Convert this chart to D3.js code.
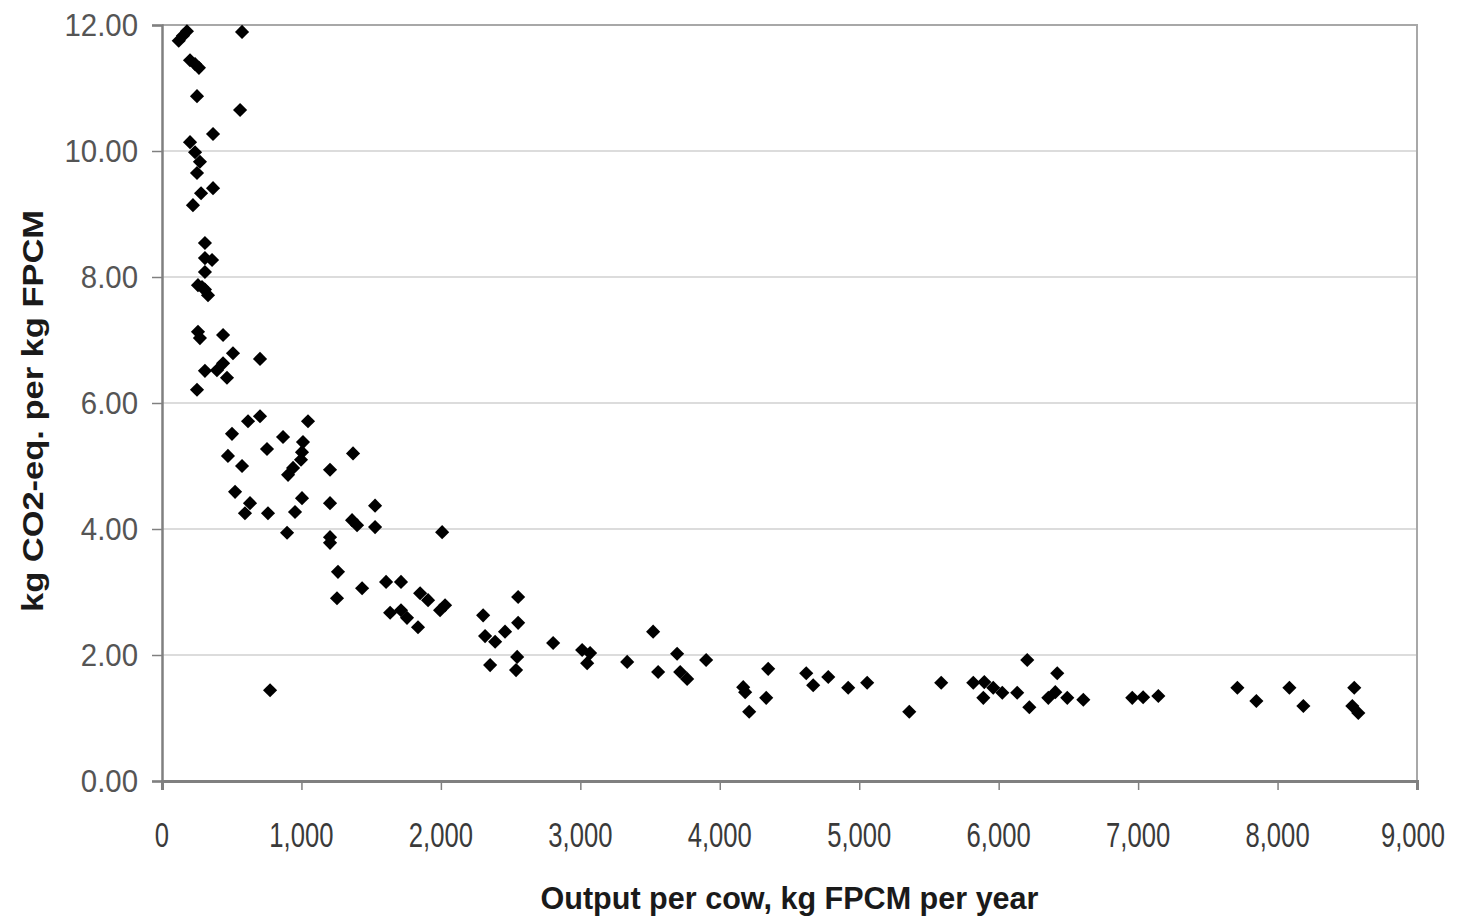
<!DOCTYPE html>
<html>
<head>
<meta charset="utf-8">
<script src="https://cdn.jsdelivr.net/npm/d3@7"></script>
<style>
  body { margin: 0; background: #fff; }
  svg { display: block; font-family: "Liberation Sans", Arial, sans-serif; }
</style>
</head>
<body>
<svg id="chart" width="1460" height="919"></svg>
<script>
// output per cow (kg FPCM per year) and emission intensity (kg CO2-eq. per kg FPCM)
const outputPerCow = [
  120, 150, 179, 574, 201, 237, 265, 251, 560, 366,
  201, 237, 272, 251, 366, 280, 222, 308, 308, 359,
  308, 258, 287, 308, 330, 258, 272, 438, 509, 703,
  438, 394, 308, 466, 251, 617, 703, 1047, 502, 868,
  1011, 753, 1004, 1370, 473, 997, 574, 940, 904, 1205,
  524, 1004, 631, 1205, 1528, 595, 760, 954, 1363, 1399,
  1528, 897, 2009, 1205, 1205, 1262, 1255, 1435, 1607, 1714,
  1851, 1908, 2030, 1994, 1636, 1714, 1757, 1836, 2303, 2554,
  2554, 2460, 2317, 2389, 2353, 2547, 2539, 2805, 3013, 3070,
  3049, 3336, 3522, 3558, 3694, 3716, 3766, 3902, 4168, 4182,
  4211, 4347, 4333, 4620, 4670, 4778, 4921, 5057, 5359, 5588,
  5818, 5897, 5890, 5961, 6026, 6133, 6205, 6220, 6356, 6406,
  6420, 6492, 6607, 6958, 7036, 7145, 7712, 7848, 8085, 8185,
  8550, 8536, 8579, 775
];
const emissionsPerKg = [
  11.75, 11.83, 11.9, 11.89, 11.44, 11.38, 11.32, 10.87, 10.65, 10.27,
  10.14, 9.98, 9.83, 9.65, 9.41, 9.33, 9.14, 8.54, 8.30, 8.27,
  8.08, 7.87, 7.84, 7.80, 7.71, 7.13, 7.03, 7.08, 6.79, 6.70,
  6.63, 6.52, 6.51, 6.40, 6.21, 5.71, 5.79, 5.71, 5.51, 5.46,
  5.38, 5.27, 5.22, 5.20, 5.16, 5.10, 5.00, 4.97, 4.86, 4.94,
  4.59, 4.49, 4.41, 4.41, 4.37, 4.25, 4.25, 4.27, 4.14, 4.06,
  4.03, 3.94, 3.95, 3.87, 3.78, 3.32, 2.90, 3.06, 3.16, 3.16,
  2.98, 2.87, 2.79, 2.71, 2.67, 2.71, 2.59, 2.44, 2.63, 2.92,
  2.51, 2.37, 2.30, 2.21, 1.84, 1.97, 1.76, 2.19, 2.08, 2.03,
  1.87, 1.89, 2.37, 1.73, 2.02, 1.73, 1.62, 1.92, 1.49, 1.41,
  1.10, 1.78, 1.32, 1.71, 1.52, 1.65, 1.48, 1.56, 1.10, 1.56,
  1.56, 1.57, 1.32, 1.48, 1.40, 1.40, 1.92, 1.17, 1.32, 1.41,
  1.71, 1.32, 1.29, 1.32, 1.33, 1.35, 1.48, 1.27, 1.48, 1.19,
  1.48, 1.19, 1.08, 1.44
];
const xTicks = [0, 1000, 2000, 3000, 4000, 5000, 6000, 7000, 8000, 9000];
const yTicks = [0, 2, 4, 6, 8, 10, 12];

const svg = d3.select('#chart');
const margin = { left: 162, right: 43, top: 25, bottom: 138 };
const width = 1460, height = 919;

const x = d3.scaleLinear().domain([0, 9000]).range([margin.left, width - margin.right]);
const y = d3.scaleLinear().domain([0, 12]).range([height - margin.bottom, margin.top]);

// grid
svg.append('g').selectAll('line').data(yTicks.filter(d => d > 0)).enter().append('line')
  .attr('x1', x(0)).attr('x2', x(9000))
  .attr('y1', d => y(d)).attr('y2', d => y(d))
  .attr('stroke', '#d0d0d0').attr('stroke-width', 1.5);

// frame (top, right)
svg.append('path')
  .attr('d', `M${x(0)},${y(12)}H${x(9000)}V${y(0)}`)
  .attr('fill', 'none').attr('stroke', '#a8a8a8').attr('stroke-width', 2);

// axes
const xAxis = svg.append('g').attr('transform', `translate(0,${y(0)})`)
  .call(d3.axisBottom(x).tickValues(xTicks).tickSize(9).tickFormat(''));
xAxis.select('.domain').attr('stroke', '#808080').attr('stroke-width', 3);
xAxis.selectAll('.tick line').attr('stroke', '#808080').attr('stroke-width', 1.5);

const yAxis = svg.append('g').attr('transform', `translate(${x(0)},0)`)
  .call(d3.axisLeft(y).tickValues(yTicks).tickSize(10).tickFormat(''));
yAxis.select('.domain').attr('stroke', '#808080').attr('stroke-width', 2.5);
yAxis.selectAll('.tick line').attr('stroke', '#808080').attr('stroke-width', 1.5);

// tick labels (the source image is stretched vertically)
const fmtX = d3.format(',');
svg.append('g').selectAll('text').data(xTicks).enter().append('text')
  .attr('transform', d => `translate(${d === 9000 ? x(d) - 4 : x(d)},${y(0) + 66}) scale(0.95,1.3)`)
  .attr('text-anchor', 'middle')
  .attr('font-size', '27px').attr('fill', '#3a3a3a')
  .text(d => fmtX(d));

svg.append('g').selectAll('text').data(yTicks).enter().append('text')
  .attr('transform', d => `translate(138,${y(d) + 11}) scale(1.13,1.2)`)
  .attr('text-anchor', 'end')
  .attr('font-size', '26px').attr('fill', '#555')
  .text(d => d.toFixed(2));

// axis titles
svg.append('text')
  .attr('x', (x(0) + x(9000)) / 2).attr('y', 909)
  .attr('text-anchor', 'middle').attr('font-weight', 'bold')
  .attr('font-size', '32px').attr('fill', '#1a1a1a')
  .attr('textLength', 498).attr('lengthAdjust', 'spacingAndGlyphs')
  .text('Output per cow, kg FPCM per year');

svg.append('text')
  .attr('transform', `translate(43,411) rotate(-90)`)
  .attr('text-anchor', 'middle').attr('font-weight', 'bold')
  .attr('font-size', '30px').attr('fill', '#1a1a1a')
  .attr('textLength', 402).attr('lengthAdjust', 'spacingAndGlyphs')
  .text('kg CO2-eq. per kg FPCM');

// points
const points = outputPerCow.map((v, i) => ({ output: v, emission: emissionsPerKg[i] }));
const marker = d3.symbol().type(d3.symbolSquare).size(100);
svg.append('g').selectAll('path').data(points).enter().append('path')
  .attr('d', marker)
  .attr('transform', d => `translate(${x(d.output)},${y(d.emission)}) rotate(45)`)
  .attr('fill', '#000');
</script>
</body>
</html>
